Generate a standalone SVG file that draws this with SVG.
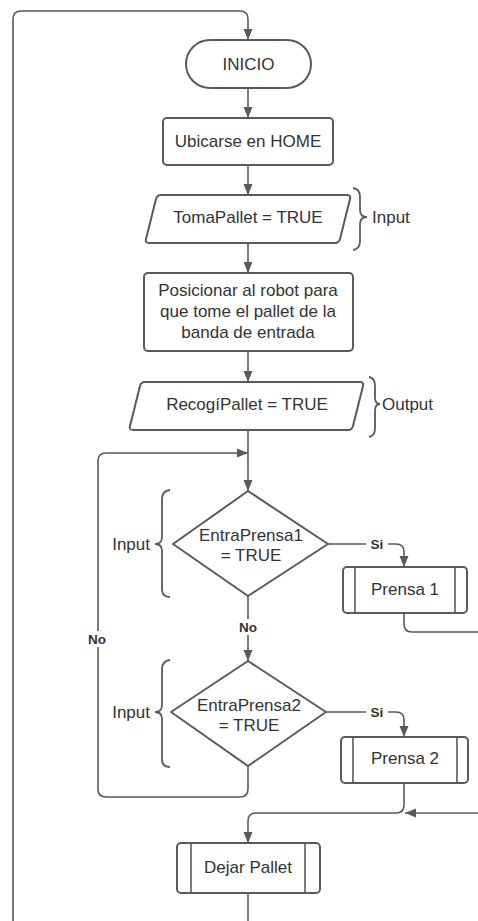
<svg xmlns="http://www.w3.org/2000/svg" width="478" height="921" viewBox="0 0 478 921">
<defs>
<marker id="ah" markerUnits="userSpaceOnUse" markerWidth="12" markerHeight="12" viewBox="0 0 12 12" refX="11" refY="6" orient="auto">
<path d="M0,1.5 L11,6 L0,10.5 Z" fill="#5a5a5a"/>
</marker>
<style>
.sh{fill:#fff;stroke:#5a5a5a;stroke-width:2;stroke-linejoin:round}
.ln{fill:none;stroke:#5a5a5a;stroke-width:1.6}
.br{fill:none;stroke:#5a5a5a;stroke-width:1.8}
.t{font-family:"Liberation Sans",Arial,sans-serif;font-size:17px;fill:#333;text-anchor:middle}
.l{font-family:"Liberation Sans",Arial,sans-serif;font-size:17px;fill:#333}
.b{font-family:"Liberation Sans",Arial,sans-serif;font-size:13.5px;font-weight:bold;fill:#333;text-anchor:middle}
</style>
</defs>
<rect width="478" height="921" fill="#fff"/>
<g id="connectors">
<path class="ln" d="M13,921 V19 Q13,11 21,11 H240 Q248,11 248,19 V40" marker-end="url(#ah)"/>
<path class="ln" d="M248,88 V118" marker-end="url(#ah)"/>
<path class="ln" d="M248,165 V195" marker-end="url(#ah)"/>
<path class="ln" d="M248,243 V273" marker-end="url(#ah)"/>
<path class="ln" d="M248,351 V382" marker-end="url(#ah)"/>
<path class="ln" d="M248,430 V491" marker-end="url(#ah)"/>
<path class="ln" d="M248,766 V789 Q248,797 240,797 H106 Q98,797 98,789 V461 Q98,453 106,453 H248" marker-end="url(#ah)"/>
<path class="ln" d="M328,544 H396 Q404,544 404,552 V567" marker-end="url(#ah)"/>
<path class="ln" d="M248,596 V661" marker-end="url(#ah)"/>
<path class="ln" d="M404,613 V624 Q404,632 412,632 H478"/>
<path class="ln" d="M326,712 H396 Q404,712 404,720 V737" marker-end="url(#ah)"/>
<path class="ln" d="M404,783 V805 Q404,813 396,813 H256 Q248,813 248,821 V843" marker-end="url(#ah)"/>
<path class="ln" d="M478,813 H405" marker-end="url(#ah)"/>
<path class="ln" d="M248,893 V921"/>
<rect x="366" y="536" width="22" height="16" fill="#fff"/>
<text class="b" x="377" y="549">Si</text>
<rect x="366" y="704" width="22" height="16" fill="#fff"/>
<text class="b" x="377" y="717">Si</text>
<rect x="235" y="619" width="26" height="16" fill="#fff"/>
<text class="b" x="248" y="632">No</text>
<rect x="84" y="631" width="26" height="16" fill="#fff"/>
<text class="b" x="97" y="644">No</text>
</g>
<g id="inicio">
<rect class="sh" x="186" y="40" width="125" height="48" rx="24"/>
<text class="t" x="248.5" y="70">INICIO</text>
</g>
<g id="home">
<rect class="sh" x="163" y="118" width="170" height="47" rx="4"/>
<text class="t" x="248" y="147">Ubicarse en HOME</text>
</g>
<g id="tomapallet">
<path class="sh" d="M161,195 H347 Q351,195 350,199 L340,239 Q339,243 335,243 H149 Q145,243 146,239 L156,199 Q157,195 161,195 Z"/>
<text class="t" x="248" y="223">TomaPallet = TRUE</text>
<path class="br" d="M353,188 Q360,189 360,197 V210 Q360,217 367,217 Q360,217 360,224 V241 Q360,249 353,250"/>
<text class="l" x="372" y="223">Input</text>
</g>
<g id="posicionar">
<rect class="sh" x="144" y="273" width="209" height="78" rx="4"/>
<text class="t" x="248" y="296">Posicionar al robot para</text>
<text class="t" x="248" y="317">que tome el pallet de la</text>
<text class="t" x="248" y="338">banda de entrada</text>
</g>
<g id="recogipallet">
<path class="sh" d="M145,382 H360 Q364,382 363,386 L353,426 Q352,430 348,430 H133 Q129,430 130,426 L140,386 Q141,382 145,382 Z"/>
<text class="t" x="247" y="410">RecogíPallet = TRUE</text>
<path class="br" d="M369,377 Q375,378 375,386 V397 Q375,404 380,404 Q375,404 375,411 V428 Q375,436 369,437"/>
<text class="l" x="382" y="410">Output</text>
</g>
<g id="entraprensa1">
<path class="sh" d="M248,491 L328,544 L248,596 L173,544 Z"/>
<text class="t" x="251" y="541">EntraPrensa1</text>
<text class="t" x="251" y="561">= TRUE</text>
<path class="br" d="M170,490 Q162,491 162,499 V537 Q162,544 155,544 Q162,544 162,551 V589 Q162,597 170,597"/>
<text class="l" x="150" y="550" text-anchor="end">Input</text>
</g>
<g id="prensa1">
<rect class="sh" x="343" y="567" width="124" height="46" rx="4"/>
<line class="ln" x1="355" y1="567" x2="355" y2="613" stroke-width="2"/>
<line class="ln" x1="455" y1="567" x2="455" y2="613" stroke-width="2"/>
<text class="t" x="405" y="595">Prensa 1</text>
</g>
<g id="entraprensa2">
<path class="sh" d="M248,661 L326,712 L248,766 L171,712 Z"/>
<text class="t" x="249" y="711">EntraPrensa2</text>
<text class="t" x="249" y="731">= TRUE</text>
<path class="br" d="M170,660 Q162,661 162,669 V705 Q162,712 155,712 Q162,712 162,719 V759 Q162,767 170,767"/>
<text class="l" x="150" y="718" text-anchor="end">Input</text>
</g>
<g id="prensa2">
<rect class="sh" x="341" y="737" width="127" height="46" rx="4"/>
<line class="ln" x1="353" y1="737" x2="353" y2="783" stroke-width="2"/>
<line class="ln" x1="457" y1="737" x2="457" y2="783" stroke-width="2"/>
<text class="t" x="405" y="764">Prensa 2</text>
</g>
<g id="dejarpallet">
<rect class="sh" x="177" y="843" width="143" height="50" rx="4"/>
<line class="ln" x1="191" y1="843" x2="191" y2="893" stroke-width="2"/>
<line class="ln" x1="305" y1="843" x2="305" y2="893" stroke-width="2"/>
<text class="t" x="248" y="873">Dejar Pallet</text>
</g>
</svg>
